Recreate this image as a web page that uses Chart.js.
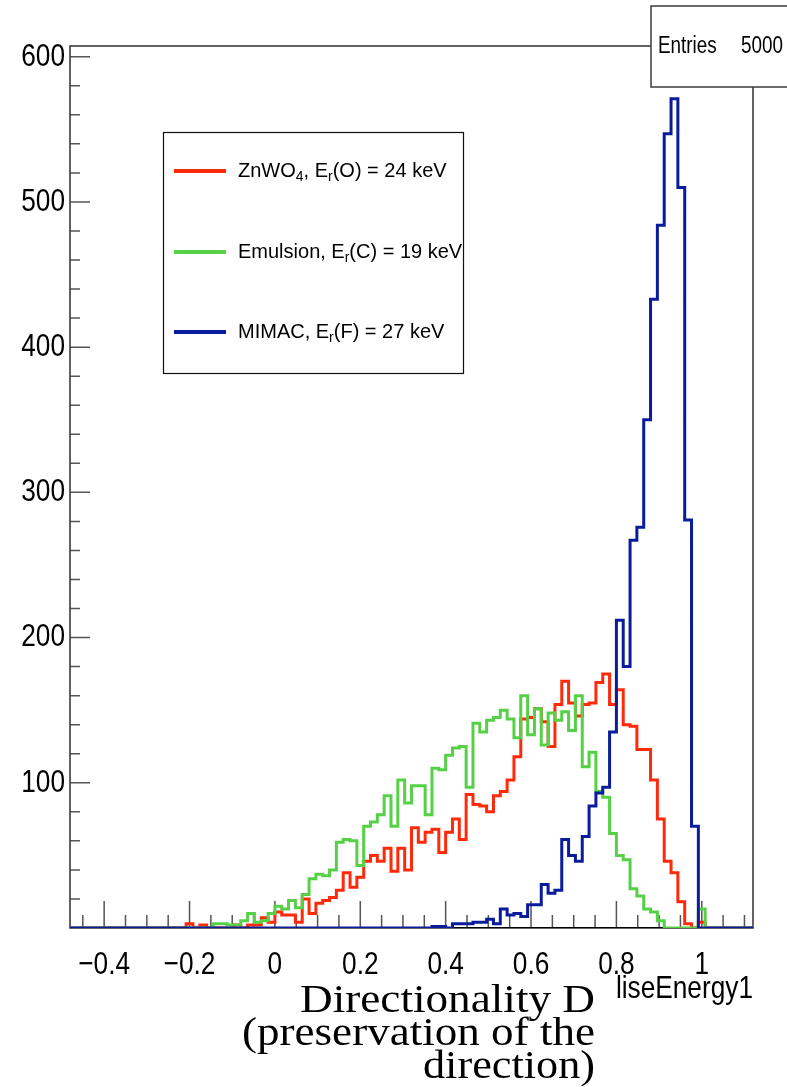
<!DOCTYPE html>
<html>
<head>
<meta charset="utf-8">
<script src="https://cdn.jsdelivr.net/npm/chart.js@4.4.1/dist/chart.umd.min.js"></script>
<style>
html, body { margin: 0; padding: 0; background: #fff; }
#wrap { width: 787px; height: 1087px; }
</style>
</head>
<body>
<div id="wrap"><canvas id="histo" width="787" height="1087"></canvas></div>
<script>
// histogram binning: 100 bins over the whole axis range
var xLow = -0.48;
var xHigh = 1.12;
var nBins = 100;
var yTop = 607.4;

// bin contents, bin 0 .. 99
var znwoCounts = [
  0, 0, 0, 0, 0, 0, 0, 0, 0, 0,
  0, 0, 0, 0, 0, 0, 0, 3, 0, 2,
  0, 0, 0, 0, 2, 0, 2, 2, 7, 4,
  11, 9, 9, 4, 20, 10, 17, 19, 21, 26,
  38, 28, 35, 46, 50, 46, 55, 39, 55, 40,
  69, 59, 66, 68, 52, 66, 75, 61, 92, 85,
  84, 80, 91, 94, 102, 118, 144, 145, 151, 142,
  125, 154, 170, 155, 146, 154, 155, 169, 175, 154,
  164, 140, 139, 123, 123, 102, 75, 46, 38, 18,
  3, 0, 4, 0, 0, 0, 0, 0, 0, 0
];
var emulsionCounts = [
  0, 0, 0, 0, 0, 0, 0, 0, 0, 0,
  0, 0, 0, 0, 0, 0, 0, 0, 0, 0,
  0, 3, 3, 2, 2, 5, 10, 4, 5, 10,
  15, 13, 19, 14, 23, 34, 37, 36, 40, 59,
  61, 60, 43, 70, 73, 78, 91, 70, 102, 86,
  98, 98, 78, 110, 109, 119, 124, 125, 97, 141,
  135, 143, 145, 150, 144, 131, 160, 133, 151, 126,
  148, 143, 149, 136, 160, 111, 121, 94, 90, 65,
  50, 47, 27, 22, 13, 11, 5, 0, 0, 0,
  0, 0, 13, 0, 0, 0, 0, 0, 0, 0
];
var mimacCounts = [
  0, 0, 0, 0, 0, 0, 0, 0, 0, 0,
  0, 0, 0, 0, 0, 0, 0, 0, 0, 0,
  0, 0, 0, 0, 0, 0, 0, 0, 0, 0,
  0, 0, 0, 0, 0, 0, 0, 0, 0, 0,
  0, 0, 0, 0, 0, 0, 0, 0, 0, 0,
  0, 0, 0, 1, 1, 0, 3, 3, 3, 4,
  4, 6, 3, 13, 9, 10, 8, 16, 16, 30,
  24, 26, 61, 50, 46, 63, 84, 93, 97, 135,
  212, 180, 267, 276, 350, 433, 484, 547, 571, 510,
  281, 70, 0, 0, 0, 0, 0, 0, 0, 0
];
// the black htemp histogram (liseEnergy1) is empty inside this range
var htempCounts = [
  0, 0, 0, 0, 0, 0, 0, 0, 0, 0, 0, 0, 0, 0, 0, 0, 0, 0, 0, 0,
  0, 0, 0, 0, 0, 0, 0, 0, 0, 0, 0, 0, 0, 0, 0, 0, 0, 0, 0, 0,
  0, 0, 0, 0, 0, 0, 0, 0, 0, 0, 0, 0, 0, 0, 0, 0, 0, 0, 0, 0,
  0, 0, 0, 0, 0, 0, 0, 0, 0, 0, 0, 0, 0, 0, 0, 0, 0, 0, 0, 0,
  0, 0, 0, 0, 0, 0, 0, 0, 0, 0, 0, 0, 0, 0, 0, 0, 0, 0, 0, 0
];

// tick marks (every one) and the labelled ones
var xTickMarks = [-0.45, -0.4, -0.35, -0.3, -0.25, -0.2, -0.15, -0.1, -0.05, 0,
  0.05, 0.1, 0.15, 0.2, 0.25, 0.3, 0.35, 0.4, 0.45, 0.5, 0.55, 0.6, 0.65,
  0.7, 0.75, 0.8, 0.85, 0.9, 0.95, 1, 1.05, 1.1];
var xTickValues = [-0.4, -0.2, 0, 0.2, 0.4, 0.6, 0.8, 1];
var xTickLabels = ['\u22120.4', '\u22120.2', '0', '0.2', '0.4', '0.6', '0.8', '1'];
var yTickMarks = [20, 40, 60, 80, 100, 120, 140, 160, 180, 200, 220, 240, 260,
  280, 300, 320, 340, 360, 380, 400, 420, 440, 460, 480, 500, 520, 540, 560, 580, 600];
var yTickValues = [100, 200, 300, 400, 500, 600];
var yTickLabels = ['100', '200', '300', '400', '500', '600'];

// legend text, pieces with sub:true are subscripts
var legendRows = [
  {color: '#ff2a0a', parts: [{t: 'ZnWO'}, {t: '4', sub: true}, {t: ', E'}, {t: 'r', sub: true}, {t: '(O) = 24 keV'}]},
  {color: '#55d047', parts: [{t: 'Emulsion, E'}, {t: 'r', sub: true}, {t: '(C) = 19 keV'}]},
  {color: '#0a1c9c', parts: [{t: 'MIMAC, E'}, {t: 'r', sub: true}, {t: '(F) = 27 keV'}]}
];
var statsLabel = 'Entries';
var statsValue = '5000';
var xAxisName = 'liseEnergy1';
var titleLines = ['Directionality D', '(preservation of the', 'direction)'];

var sansFont = '"Liberation Sans", Arial, sans-serif';
var serifFont = '"Liberation Serif", "Times New Roman", serif';
var squeeze = 0.82; // the ROOT labels are drawn narrow

// turn bin contents into step points on the bin edges
function histPoints(counts) {
  var pts = [];
  var w = (xHigh - xLow) / nBins;
  for (var i = 0; i < counts.length; i++) {
    pts.push({x: xLow + i * w, y: counts[i]});
  }
  pts.push({x: xHigh, y: counts[counts.length - 1]});
  return pts;
}

function narrowText(ctx, s, x, y, size, align) {
  ctx.save();
  ctx.font = size + 'px ' + sansFont;
  ctx.textBaseline = 'middle';
  ctx.textAlign = 'left';
  var w = ctx.measureText(s).width * squeeze;
  var left = x;
  if (align === 'right') left = x - w;
  if (align === 'center') left = x - w / 2;
  ctx.translate(left, y);
  ctx.scale(squeeze, 1);
  ctx.fillText(s, 0, 0);
  ctx.restore();
}

function drawRich(ctx, parts, x, y, size) {
  var cx = x;
  parts.forEach(function(p) {
    ctx.font = (p.sub ? Math.round(size * 0.68) : size) + 'px ' + sansFont;
    ctx.fillText(p.t, cx, p.sub ? y + size * 0.3 : y);
    cx += ctx.measureText(p.t).width;
  });
}

// ROOT style frame, inward ticks, labels, legend, stats box and titles
var rootDecor = {
  id: 'rootDecor',
  beforeDatasetsDraw: function(chart) {
    var ctx = chart.ctx;
    var a = chart.chartArea;
    var xs = chart.scales.x, ys = chart.scales.y;
    ctx.save();
    ctx.strokeStyle = '#555';
    ctx.lineWidth = 1.5;
    ctx.beginPath();
    xs.ticks.forEach(function(t) {
      var len = xTickValues.indexOf(t.value) >= 0 ? 27 : 13;
      var px = xs.getPixelForValue(t.value);
      ctx.moveTo(px, a.bottom);
      ctx.lineTo(px, a.bottom - len);
    });
    ys.ticks.forEach(function(t) {
      var len = yTickValues.indexOf(t.value) >= 0 ? 20 : 10;
      var py = ys.getPixelForValue(t.value);
      ctx.moveTo(a.left, py);
      ctx.lineTo(a.left + len, py);
    });
    ctx.stroke();
    ctx.strokeStyle = '#3c3c3c';
    ctx.lineWidth = 1.6;
    ctx.strokeRect(a.left, a.top, a.right - a.left, a.bottom - a.top);

    // axis labels
    ctx.fillStyle = '#000';
    xTickValues.forEach(function(v, i) {
      narrowText(ctx, xTickLabels[i], xs.getPixelForValue(v), 965, 32, 'center');
    });
    yTickValues.forEach(function(v, i) {
      narrowText(ctx, yTickLabels[i], a.left - 5, ys.getPixelForValue(v), 32, 'right');
    });
    ctx.restore();
  },
  afterDraw: function(chart) {
    var ctx = chart.ctx;
    var a = chart.chartArea;
    ctx.save();

    // legend box
    ctx.fillStyle = '#fff';
    ctx.fillRect(163.5, 132.5, 300, 241);
    ctx.strokeStyle = '#111';
    ctx.lineWidth = 1.2;
    ctx.strokeRect(163.5, 132.5, 300, 241);
    var rowY = [171, 252, 332];
    legendRows.forEach(function(row, i) {
      ctx.strokeStyle = row.color;
      ctx.lineWidth = 4;
      ctx.beginPath();
      ctx.moveTo(174, rowY[i]);
      ctx.lineTo(226, rowY[i]);
      ctx.stroke();
      ctx.fillStyle = '#000';
      ctx.textBaseline = 'middle';
      ctx.textAlign = 'left';
      drawRich(ctx, row.parts, 238, rowY[i], 20);
    });

    // stats box, runs off the right edge
    ctx.fillStyle = '#fff';
    ctx.fillRect(651, 6, 160, 81);
    ctx.strokeStyle = '#3c3c3c';
    ctx.lineWidth = 1.5;
    ctx.strokeRect(651, 6, 160, 81);
    ctx.fillStyle = '#000';
    narrowText(ctx, statsLabel, 658, 47, 23, 'left');
    narrowText(ctx, statsValue, 783, 47, 23, 'right');

    // x axis name
    narrowText(ctx, xAxisName, a.right, 989, 32, 'right');

    // serif title, each line stretched to its width in the picture
    var widths = [295, 353, 172];
    var bases = [1012, 1045, 1078];
    ctx.font = '39px ' + serifFont;
    ctx.textBaseline = 'alphabetic';
    titleLines.forEach(function(s, i) {
      var sx = widths[i] / ctx.measureText(s).width;
      ctx.save();
      ctx.translate(595, bases[i]);
      ctx.scale(sx, 1);
      ctx.textAlign = 'right';
      ctx.fillText(s, 0, 0);
      ctx.restore();
    });
    ctx.restore();
  }
};

function lineSet(label, counts, color, width, order) {
  return {
    label: label,
    data: histPoints(counts),
    borderColor: color,
    borderWidth: width,
    pointRadius: 0,
    fill: false,
    stepped: 'before',
    order: order
  };
}

var chart = new Chart(document.getElementById('histo'), {
  type: 'line',
  data: {
    datasets: [
      lineSet('MIMAC', mimacCounts, legendRows[2].color, 3, 0),
      lineSet('Emulsion', emulsionCounts, legendRows[1].color, 3, 1),
      lineSet('ZnWO4', znwoCounts, legendRows[0].color, 3, 2),
      lineSet('htemp', htempCounts, '#000', 2, 3)
    ]
  },
  options: {
    responsive: false,
    animation: false,
    events: [],
    layout: { padding: { top: 46, right: 34, left: 0, bottom: 0 } },
    plugins: { legend: { display: false }, tooltip: { enabled: false } },
    scales: {
      x: {
        type: 'linear',
        min: xLow,
        max: xHigh,
        grid: { display: false, drawTicks: false },
        border: { display: false },
        ticks: { display: false },
        afterBuildTicks: function(s) {
          s.ticks = xTickMarks.map(function(v) { return {value: v}; });
        },
        afterFit: function(s) { s.height = 159; }
      },
      y: {
        type: 'linear',
        min: 0,
        max: yTop,
        grid: { display: false, drawTicks: false },
        border: { display: false },
        ticks: { display: false },
        afterBuildTicks: function(s) {
          s.ticks = yTickMarks.map(function(v) { return {value: v}; });
        },
        afterFit: function(s) { s.width = 70; }
      }
    }
  },
  plugins: [rootDecor]
});
</script>
</body>
</html>
